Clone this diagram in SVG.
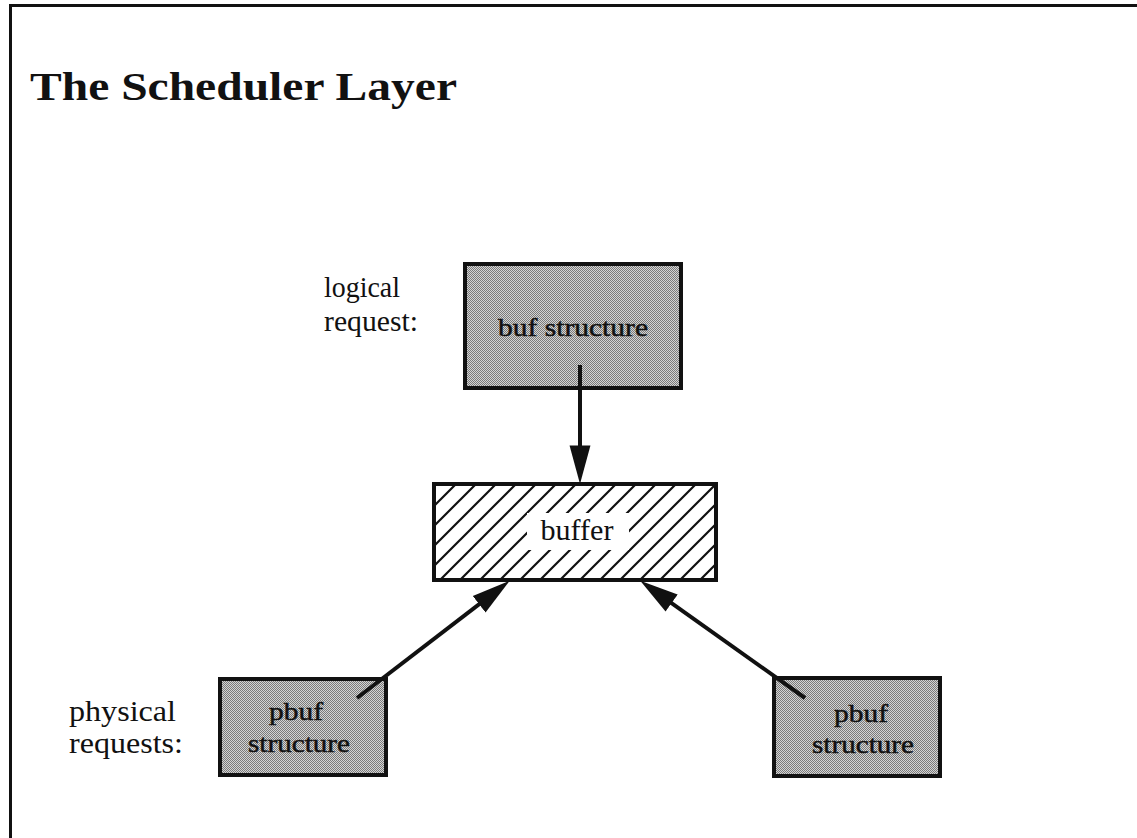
<svg xmlns="http://www.w3.org/2000/svg" width="1137" height="838" viewBox="0 0 1137 838">
<defs>
<pattern id="dither" width="2" height="2" patternUnits="userSpaceOnUse">
<rect width="2" height="2" fill="#d4d4d4"/>
<rect x="0" y="0" width="1" height="1" fill="#7a7a7a"/>
<rect x="1" y="1" width="1" height="1" fill="#7a7a7a"/>
</pattern>
<pattern id="hatch" width="20" height="20" patternUnits="userSpaceOnUse">
<rect width="20" height="20" fill="#ffffff"/>
<path d="M-5,5 L5,-5 M0,20 L20,0 M15,25 L25,15" stroke="#111" stroke-width="2.2"/>
</pattern>
<marker id="arrow" markerUnits="userSpaceOnUse" markerWidth="40" markerHeight="22" viewBox="0 0 36 20" refX="24" refY="10" orient="auto">
<path d="M0,0.5 L35,10 L0,19.5 Z" fill="#111"/>
</marker>
<style>
.frame{stroke:#111;stroke-width:3;fill:none}
.box{stroke:#111;stroke-width:4}
.gray{fill:url(#dither)}
.hatched{fill:url(#hatch)}
.lbl{font-family:"Liberation Serif","Times New Roman",serif;font-size:29px;fill:#111}
.inbox{font-family:"Liberation Serif","Times New Roman",serif;font-size:26px;fill:#111;stroke:#111;stroke-width:0.5;text-anchor:middle}
.title{font-family:"Liberation Serif","Times New Roman",serif;font-size:40px;font-weight:bold;fill:#111}
.conn{stroke:#111;stroke-width:4;fill:none;marker-end:url(#arrow)}
</style>
</defs>
<rect width="1137" height="838" fill="#ffffff"/>
<path class="frame" d="M10.5,838 L10.5,5.5 L1137,5.5"/>
<text class="title" x="30" y="100" textLength="427" lengthAdjust="spacingAndGlyphs">The Scheduler Layer</text>

<g id="label-logical">
<text class="lbl" x="324" y="297" textLength="76" lengthAdjust="spacingAndGlyphs">logical</text>
<text class="lbl" x="324" y="331" textLength="94" lengthAdjust="spacingAndGlyphs">request:</text>
</g>
<g id="label-physical">
<text class="lbl" x="69" y="721" textLength="107" lengthAdjust="spacingAndGlyphs">physical</text>
<text class="lbl" x="69" y="753" textLength="114" lengthAdjust="spacingAndGlyphs">requests:</text>
</g>

<g id="node-buf">
<rect class="box gray" x="465" y="264" width="216" height="124"/>
<text class="inbox" x="573" y="336" textLength="150" lengthAdjust="spacingAndGlyphs">buf structure</text>
</g>
<g id="node-buffer">
<rect class="box hatched" x="434" y="484" width="282" height="96"/>
<rect x="527" y="513" width="102" height="37" fill="#ffffff"/>
<text class="lbl" x="577" y="540" text-anchor="middle" textLength="73" lengthAdjust="spacingAndGlyphs">buffer</text>
</g>
<g id="node-pbuf-left">
<rect class="box gray" x="220" y="679" width="166" height="96"/>
<text class="inbox" x="296" y="720" textLength="54" lengthAdjust="spacingAndGlyphs">pbuf</text>
<text class="inbox" x="299" y="752" textLength="102" lengthAdjust="spacingAndGlyphs">structure</text>
</g>
<g id="node-pbuf-right">
<rect class="box gray" x="774" y="678" width="166" height="98"/>
<text class="inbox" x="861" y="722" textLength="54" lengthAdjust="spacingAndGlyphs">pbuf</text>
<text class="inbox" x="863" y="753" textLength="102" lengthAdjust="spacingAndGlyphs">structure</text>
</g>

<g id="connectors">
<path class="conn" d="M580,365 L580,472"/>
<path class="conn" d="M357,698 L500.1,588.1"/>
<path class="conn" d="M805,698 L650.1,587.8"/>
</g>
</svg>
